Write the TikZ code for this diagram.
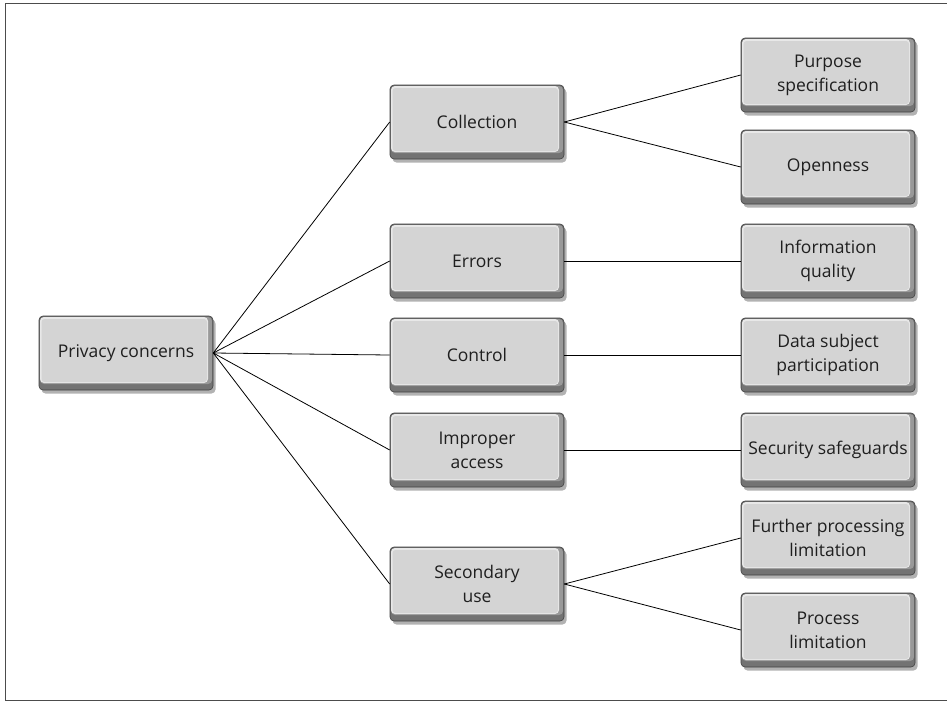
\documentclass[tikz,border=0pt]{standalone}
\usepackage{fontspec}
\setmainfont{Open Sans}
\usetikzlibrary{shadows}

\begin{document}
\begin{tikzpicture}[
    x=1pt, y=-1pt,
    box/.style={rounded corners=4pt, minimum width=174pt, minimum height=74pt, inner sep=2pt,
      align=center, font=\fontsize{17.5}{24}\selectfont, text=black!88,
      fill=black!55, draw=black!75, line width=0.6pt,
      drop shadow={shadow xshift=2.5pt, shadow yshift=-3.5pt, opacity=0.3, fill=black},
      path picture={
        \fill[black!40] ([xshift=1pt,yshift=-1pt]path picture bounding box.north west)
          rectangle ([xshift=-1pt,yshift=6pt]path picture bounding box.south east);
        \fill[black!9] ([xshift=1pt,yshift=-1pt]path picture bounding box.north west)
          rectangle ([xshift=-5pt,yshift=7pt]path picture bounding box.south east);
        \fill[black!17, rounded corners=3pt] ([xshift=2.5pt,yshift=-3pt]path picture bounding box.north west)
          rectangle ([xshift=-6pt,yshift=8pt]path picture bounding box.south east);
      }},
    link/.style={black, line width=0.8pt}
  ]
  \useasboundingbox (0,0) rectangle (947,702);
  \draw[black!70, line width=1pt] (947,3.5) -- (5,3.5) -- (5,700.5) -- (947,700.5);

  \node[box] (pc) at (126,353) {Privacy concerns};

  \node[box] (col) at (477,122) {Collection};
  \node[box] (err) at (477,261) {Errors};
  \node[box] (ctl) at (477,355) {Control};
  \node[box] (acc) at (477,450) {Improper\\access};
  \node[box] (sec) at (477,584) {Secondary\\use};

  \node[box] (pur) at (828,75) {Purpose\\specification};
  \node[box] (opn) at (828,167) {Openness};
  \node[box] (iq) at (828,261) {Information\\quality};
  \node[box] (dsp) at (828,355) {Data subject\\participation};
  \node[box] (saf) at (828,450) {Security safeguards};
  \node[box] (fpl) at (828,538) {Further processing\\limitation};
  \node[box] (pl) at (828,630) {Process\\limitation};

  \foreach \n in {col,err,ctl,acc,sec}
    \draw[link] (pc.east) -- (\n.west);
  \draw[link] (col.east) -- (pur.west);
  \draw[link] (col.east) -- (opn.west);
  \draw[link] (err.east) -- (iq.west);
  \draw[link] (ctl.east) -- (dsp.west);
  \draw[link] (acc.east) -- (saf.west);
  \draw[link] (sec.east) -- (fpl.west);
  \draw[link] (sec.east) -- (pl.west);
\end{tikzpicture}
\end{document}
